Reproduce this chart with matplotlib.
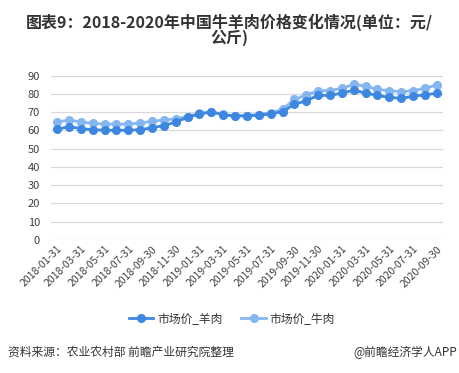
import numpy as np
import pandas as pd
import matplotlib
matplotlib.use("Agg")
import matplotlib.pyplot as plt

plt.rcParams['font.family'] = ['Noto Sans CJK SC', 'DejaVu Sans']

# 月度日期（2018-01 至 2020-09）
dates = pd.date_range("2018-01-31", "2020-09-30", freq="ME").strftime("%Y-%m-%d").tolist()

# 市场价_羊肉（元/公斤）
mutton = [60.6, 62.1, 61.0, 60.4, 60.1, 60.1, 60.1, 60.4, 61.5, 62.6, 64.6,
          67.2, 69.0, 70.1, 68.6, 67.9, 68.0, 68.4, 69.0, 70.3, 74.3, 76.3,
          79.2, 79.2, 80.5, 82.0, 80.5, 79.2, 78.1, 77.6, 78.7, 79.6, 80.3]
# 市场价_牛肉（元/公斤）
beef = [64.6, 65.7, 64.6, 63.9, 63.5, 63.5, 63.5, 64.1, 65.0, 65.7, 66.4,
        67.6, 69.3, 70.3, 68.8, 67.9, 68.1, 68.7, 69.6, 71.6, 77.0, 79.4,
        81.8, 81.8, 83.1, 85.2, 84.3, 82.5, 81.8, 81.2, 81.8, 83.1, 84.9]

yticks = list(range(0, 100, 10))

MUTTON_COLOR = "#3d87e0"
BEEF_COLOR = "#85b6f0"

fig = plt.figure(figsize=(4.59, 3.73), dpi=100)
ax = fig.add_axes([0.1115, 0.357, 0.853, 0.44])

x = np.arange(len(dates))
ax.plot(x, beef, color=BEEF_COLOR, linewidth=2, marker="o", markersize=5.5, label="市场价_牛肉", zorder=3)
ax.plot(x, mutton, color=MUTTON_COLOR, linewidth=2, marker="o", markersize=5.5, label="市场价_羊肉", zorder=4)

ax.set_xlim(-0.5, len(dates) - 0.5)
ax.set_ylim(0, 90)
ax.set_yticks(yticks)
ax.set_xticks(x[::2])
ax.set_xticklabels(dates[::2], rotation=45, ha="right", rotation_mode="anchor", fontsize=7.5, color="#404040")
ax.tick_params(axis="y", labelsize=8, colors="#404040", length=0, pad=8)
ax.tick_params(axis="x", length=0, pad=3)
ax.grid(axis="y", color="#d9d9d9", linewidth=0.9)
ax.set_axisbelow(True)
for s in ax.spines.values():
    s.set_visible(False)

# 图例（羊肉在前）
handles, labels = ax.get_legend_handles_labels()
fig.legend(handles[::-1], labels[::-1], loc="center", bbox_to_anchor=(0.505, 1 - 319 / 373),
           ncol=2, frameon=False, fontsize=8.5, handlelength=2.1, handletextpad=0.3,
           columnspacing=1.6, labelcolor="#333333")

# 标题
fig.text(0.5, 1 - 22 / 373, "图表9：2018-2020年中国牛羊肉价格变化情况(单位：元/",
         ha="center", va="center", fontsize=11.5, fontweight="bold", color="#333333")
fig.text(0.5, 1 - 38 / 373, "公斤)", ha="center", va="center",
         fontsize=11.5, fontweight="bold", color="#333333")

# 来源
fig.text(8 / 459, 1 - 352 / 373, "资料来源：农业农村部 前瞻产业研究院整理",
         ha="left", va="center", fontsize=8.5, color="#333333")
fig.text(457 / 459, 1 - 352 / 373, "@前瞻经济学人APP",
         ha="right", va="center", fontsize=8.5, color="#333333")

fig.savefig("out.png", dpi=100)
